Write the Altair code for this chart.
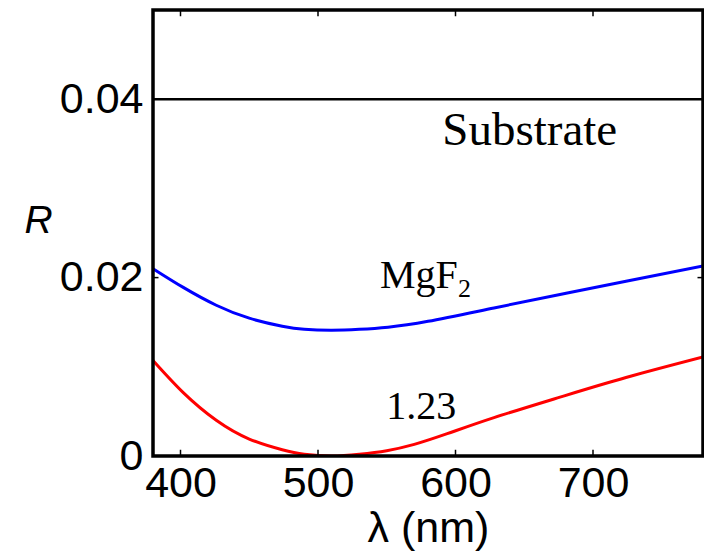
import altair as alt
import pandas as pd

# Data
wl_mgf2 = [380, 402, 426, 450, 474, 490, 510, 530, 551, 580, 628, 676, 724, 780]
r_mgf2 = [0.0210, 0.0189, 0.0169, 0.01545, 0.01455, 0.0142, 0.0141, 0.0142, 0.01444, 0.0151, 0.0166, 0.0181, 0.0196, 0.0213]

wl_123 = [380, 402, 426, 450, 474, 490, 510, 530, 550, 570, 594, 628, 676, 724, 780]
r_123 = [0.0107, 0.0071, 0.0040, 0.0019, 0.0007, 0.0002, 0.0000, 0.0002, 0.0006, 0.0013, 0.0025, 0.0043, 0.0066, 0.0088, 0.0111]

wl_sub = [380, 780]
r_sub = [0.04, 0.04]

x_ticks = [400, 500, 600, 700]
y_ticks = [0, 0.02, 0.04]

labels = ["Substrate", "MgF", "2", "1.23"]
label_x = [654, 545, 545, 575]
label_y = [0.0349, 0.0188, 0.0188, 0.0042]

XDOM = [380, 780]
YDOM = [0, 0.05]

df_m = pd.DataFrame({"wl": wl_mgf2, "R": r_mgf2})
df_r = pd.DataFrame({"wl": wl_123, "R": r_123})
df_s = pd.DataFrame({"wl": wl_sub, "R": r_sub})

xs = alt.Scale(domain=XDOM, nice=False, zero=False)
ys = alt.Scale(domain=YDOM, nice=False)

x_axis = alt.Axis(values=x_ticks, title="λ (nm)", domain=False, ticks=False, grid=False,
                  labelFont="Liberation Sans", labelFontSize=43, labelColor="black",
                  labelPadding=6, labelFlush=False, labelOverlap=False,
                  titleFont="Liberation Sans", titleFontSize=43, titleFontWeight="normal",
                  titleColor="black", titlePadding=2)
y_axis = alt.Axis(values=y_ticks, title="R", domain=False, ticks=False, grid=False,
                  labelFont="Liberation Sans", labelFontSize=43, labelColor="black",
                  labelPadding=10, labelFlush=False, labelOverlap=False,
                  labelExpr="datum.value == 0 ? '0' : format(datum.value, '.2f')",
                  titleFont="Liberation Sans", titleFontSize=39, titleFontWeight="normal",
                  titleFontStyle="italic", titleColor="black", titleAngle=0,
                  titleAlign="center", titleBaseline="middle", titleX=-115, titleY=210)

base_x = alt.X("wl:Q", scale=xs, axis=x_axis)
base_y = alt.Y("R:Q", scale=ys, axis=y_axis)

sub_line = alt.Chart(df_s).mark_line(color="black", strokeWidth=2.5, clip=True).encode(x=base_x, y=base_y)
mg_line = alt.Chart(df_m).mark_line(color="#0000FF", strokeWidth=3, interpolate="natural", clip=True).encode(
    x=alt.X("wl:Q", scale=xs), y=alt.Y("R:Q", scale=ys))
r_line = alt.Chart(df_r).mark_line(color="#FF0000", strokeWidth=3, interpolate="natural", clip=True).encode(
    x=alt.X("wl:Q", scale=xs), y=alt.Y("R:Q", scale=ys))

# plot frame
df_frame = pd.DataFrame({"x0": [XDOM[0]], "x1": [XDOM[1]], "y0": [YDOM[0]], "y1": [YDOM[1]]})
frame = alt.Chart(df_frame).mark_rect(fillOpacity=0, stroke="black", strokeWidth=3.5).encode(
    x=alt.X("x0:Q", scale=xs), x2="x1:Q", y=alt.Y("y0:Q", scale=ys), y2="y1:Q")

# inner tick marks on all four sides
df_xt = pd.DataFrame({"t": x_ticks})
df_yt = pd.DataFrame({"t": y_ticks})
tick_b = alt.Chart(df_xt).mark_rule(color="black", strokeWidth=1.5).encode(
    x=alt.X("t:Q", scale=xs), y=alt.YDatum(0, scale=ys), y2=alt.Y2Datum(0.0007))
tick_t = alt.Chart(df_xt).mark_rule(color="black", strokeWidth=1.5).encode(
    x=alt.X("t:Q", scale=xs), y=alt.YDatum(0.05, scale=ys), y2=alt.Y2Datum(0.0493))
tick_l = alt.Chart(df_yt).mark_rule(color="black", strokeWidth=1.5).encode(
    y=alt.Y("t:Q", scale=ys), x=alt.XDatum(380, scale=xs), x2=alt.X2Datum(384))
tick_r = alt.Chart(df_yt).mark_rule(color="black", strokeWidth=1.5).encode(
    y=alt.Y("t:Q", scale=ys), x=alt.XDatum(780, scale=xs), x2=alt.X2Datum(776))

df_lab = pd.DataFrame({"text": labels, "x": label_x, "y": label_y})
txt_sub = alt.Chart(df_lab.iloc[[0]]).mark_text(font="Liberation Serif", fontSize=47, align="center",
                                                 baseline="alphabetic", color="black").encode(
    x=alt.X("x:Q", scale=xs), y=alt.Y("y:Q", scale=ys), text="text:N")
txt_mg = alt.Chart(df_lab.iloc[[1]]).mark_text(font="Liberation Serif", fontSize=40, align="left",
                                                baseline="alphabetic", color="black").encode(
    x=alt.X("x:Q", scale=xs), y=alt.Y("y:Q", scale=ys), text="text:N")
txt_2 = alt.Chart(df_lab.iloc[[2]]).mark_text(font="Liberation Serif", fontSize=26, align="left",
                                               baseline="alphabetic", color="black", dx=78, dy=9).encode(
    x=alt.X("x:Q", scale=xs), y=alt.Y("y:Q", scale=ys), text="text:N")
txt_123 = alt.Chart(df_lab.iloc[[3]]).mark_text(font="Liberation Serif", fontSize=40, align="center",
                                                 baseline="alphabetic", color="black").encode(
    x=alt.X("x:Q", scale=xs), y=alt.Y("y:Q", scale=ys), text="text:N")

chart = alt.layer(sub_line, mg_line, r_line, frame, tick_b, tick_t, tick_l, tick_r,
                  txt_sub, txt_mg, txt_2, txt_123).properties(
    width=550, height=446,
    autosize=alt.AutoSizeParams(type="none"),
    padding={"left": 145, "top": 2, "right": 1, "bottom": 95},
).configure_view(stroke="transparent").configure(background="white")

chart.save("out.html", embed_options={"renderer": "svg", "actions": False})
